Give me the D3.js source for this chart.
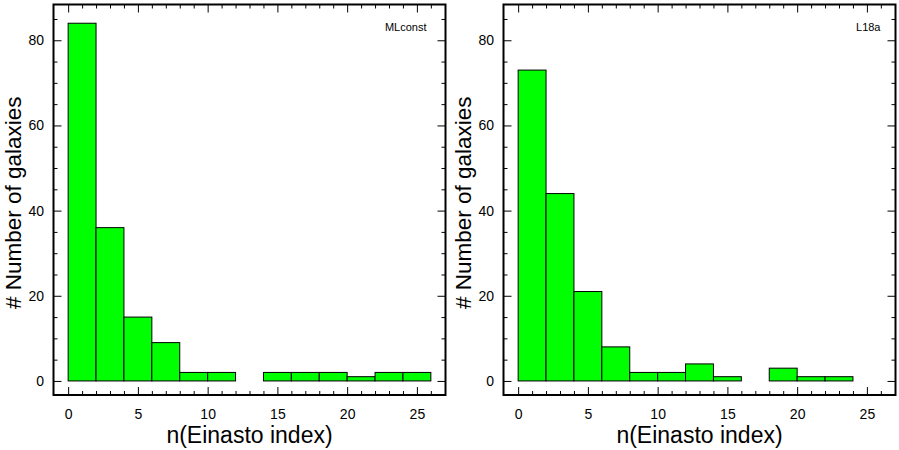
<!DOCTYPE html>
<html>
<head>
<meta charset="utf-8">
<script src="https://cdn.jsdelivr.net/npm/d3@7"></script>
<style>
  body { margin: 0; background: #fff; }
  svg { display: block; font-family: "Liberation Sans", Arial, sans-serif; }
  .axis path { display: none; }
  .axis line { stroke: #000; stroke-width: 1; }
  .axis text { font-size: 14px; fill: #000; }
</style>
</head>
<body>
<svg width="899" height="450"></svg>
<script>
// bin starts (width 2) and counts per panel
var binStarts = [0, 2, 4, 6, 8, 10, 12, 14, 16, 18, 20, 22, 24];
var binWidth = 2;
var countsMLconst = [84, 36, 15, 9, 2, 2, 0, 2, 2, 2, 1, 2, 2];
var countsL18a = [73, 44, 21, 8, 2, 2, 4, 1, 0, 3, 1, 1];
var xTicks = [0, 5, 10, 15, 20, 25];
var yTicks = [0, 20, 40, 60, 80];
var panelNames = ["MLconst", "L18a"];

var svg = d3.select("svg");

var frame = { top: 4.5, bottom: 395, width: 392 };

drawPanel(53.5, countsMLconst, panelNames[0], 19);
drawPanel(503.5, countsL18a, panelNames[1], 15);

function drawPanel(left, counts, name, nameOffset)
{
  var right = left + frame.width;
  var xscale = d3.scaleLinear().domain([-1.05, 27.05]).range([left, right]);
  var yscale = d3.scaleLinear().domain([-3.3, 88.4]).range([frame.bottom, frame.top]);

  var g = svg.append("g");

  //Bars
  var bins = counts.map(function(c, i){ return { x0: binStarts[i], n: c }; })
    .filter(function(d){ return d.n > 0; });

  g.selectAll("rect.bar")
    .data(bins)
    .enter()
    .append("rect")
    .attr("class", "bar")
    .attr("x", function(d){ return xscale(d.x0); })
    .attr("y", function(d){ return yscale(d.n); })
    .attr("width", function(d){ return xscale(d.x0 + binWidth) - xscale(d.x0); })
    .attr("height", function(d){ return yscale(0) - yscale(d.n); })
    .attr("fill", "#00ff00")
    .attr("stroke", "#000")
    .attr("stroke-width", 1);

  var minorX = d3.range(0, 27, 1).filter(function(v){ return v % 5 != 0; });
  var minorY = d3.range(5, 88, 5).filter(function(v){ return v % 20 != 0; });

  //Bottom
  g.append("g").attr("class", "axis")
    .attr("transform", "translate(0," + frame.bottom + ")")
    .call(d3.axisBottom(xscale).tickValues(xTicks).tickSize(-8).tickPadding(14).tickFormat(d3.format("d")));
  g.append("g").attr("class", "axis")
    .attr("transform", "translate(0," + frame.bottom + ")")
    .call(d3.axisBottom(xscale).tickValues(minorX).tickSize(-4).tickFormat(""));
  //Top
  g.append("g").attr("class", "axis")
    .attr("transform", "translate(0," + frame.top + ")")
    .call(d3.axisTop(xscale).tickValues(xTicks).tickSize(-8).tickFormat(""));
  g.append("g").attr("class", "axis")
    .attr("transform", "translate(0," + frame.top + ")")
    .call(d3.axisTop(xscale).tickValues(minorX).tickSize(-4).tickFormat(""));
  //Left
  g.append("g").attr("class", "axis")
    .attr("transform", "translate(" + left + ",0)")
    .call(d3.axisLeft(yscale).tickValues(yTicks).tickSize(-8).tickPadding(9.5).tickFormat(d3.format("d")));
  g.append("g").attr("class", "axis")
    .attr("transform", "translate(" + left + ",0)")
    .call(d3.axisLeft(yscale).tickValues(minorY).tickSize(-4).tickFormat(""));
  //Right
  g.append("g").attr("class", "axis")
    .attr("transform", "translate(" + right + ",0)")
    .call(d3.axisRight(yscale).tickValues(yTicks).tickSize(-8).tickFormat(""));
  g.append("g").attr("class", "axis")
    .attr("transform", "translate(" + right + ",0)")
    .call(d3.axisRight(yscale).tickValues(minorY).tickSize(-4).tickFormat(""));

  //Frame
  g.append("rect")
    .attr("x", left)
    .attr("y", frame.top)
    .attr("width", frame.width)
    .attr("height", frame.bottom - frame.top)
    .attr("fill", "none")
    .attr("stroke", "#000")
    .attr("stroke-width", 2);

  //Panel name
  g.append("text")
    .attr("x", right - nameOffset)
    .attr("y", 31)
    .attr("text-anchor", "end")
    .style("font-size", "11px")
    .text(name);

  //Axis labels
  g.append("text")
    .attr("x", (left + right) / 2)
    .attr("y", 443)
    .attr("text-anchor", "middle")
    .style("font-size", "23px")
    .text("n(Einasto index)");

  g.append("text")
    .attr("transform", "translate(" + (left - 33) + "," + ((frame.top + frame.bottom) / 2 + 3) + ") rotate(-90)")
    .attr("text-anchor", "middle")
    .style("font-size", "22.5px")
    .text("# Number of galaxies");
}
</script>
</body>
</html>
